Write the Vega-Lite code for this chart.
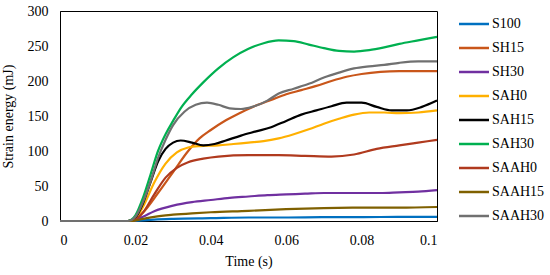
{
  "$schema": "https://vega.github.io/schema/vega-lite/v6.json",
  "width": 377,
  "height": 210,
  "autosize": {"type": "none"},
  "padding": {"left": 60, "top": 11, "right": 113, "bottom": 54},
  "background": "white",
  "config": {
    "font": "Liberation Serif",
    "view": {"stroke": "black", "strokeWidth": 1},
    "axis": {"grid": false, "ticks": false, "domainColor": "black", "labelFont": "Liberation Serif", "titleFont": "Liberation Serif", "labelFontSize": 14, "titleFontSize": 14, "titleFontWeight": "normal", "labelColor": "black", "titleColor": "black"}
  },
  "data": {"values": [
    {"s":"S100","t":0,"v":0},{"s":"S100","t":0.019,"v":0},{"s":"S100","t":0.022,"v":1},{"s":"S100","t":0.025,"v":2},{"s":"S100","t":0.03,"v":3},{"s":"S100","t":0.04,"v":4},{"s":"S100","t":0.05,"v":5},{"s":"S100","t":0.06,"v":5},{"s":"S100","t":0.07,"v":5.5},{"s":"S100","t":0.08,"v":5.5},{"s":"S100","t":0.09,"v":6},{"s":"S100","t":0.1,"v":6},
    {"s":"SH15","t":0,"v":0},{"s":"SH15","t":0.019,"v":0},{"s":"SH15","t":0.022,"v":12},{"s":"SH15","t":0.026,"v":40},{"s":"SH15","t":0.03,"v":70},{"s":"SH15","t":0.034,"v":100},{"s":"SH15","t":0.037,"v":118},{"s":"SH15","t":0.04,"v":130},{"s":"SH15","t":0.044,"v":144},{"s":"SH15","t":0.048,"v":155},{"s":"SH15","t":0.052,"v":165},{"s":"SH15","t":0.056,"v":173},{"s":"SH15","t":0.06,"v":181},{"s":"SH15","t":0.064,"v":187},{"s":"SH15","t":0.068,"v":193},{"s":"SH15","t":0.072,"v":200},{"s":"SH15","t":0.076,"v":206},{"s":"SH15","t":0.08,"v":210},{"s":"SH15","t":0.085,"v":213},{"s":"SH15","t":0.09,"v":214},{"s":"SH15","t":0.095,"v":214},{"s":"SH15","t":0.1,"v":214},
    {"s":"SH30","t":0,"v":0},{"s":"SH30","t":0.019,"v":0},{"s":"SH30","t":0.022,"v":6},{"s":"SH30","t":0.025,"v":14},{"s":"SH30","t":0.03,"v":22},{"s":"SH30","t":0.035,"v":27},{"s":"SH30","t":0.04,"v":30},{"s":"SH30","t":0.045,"v":33},{"s":"SH30","t":0.05,"v":35},{"s":"SH30","t":0.055,"v":37},{"s":"SH30","t":0.06,"v":38},{"s":"SH30","t":0.065,"v":39},{"s":"SH30","t":0.07,"v":40},{"s":"SH30","t":0.075,"v":40},{"s":"SH30","t":0.08,"v":40},{"s":"SH30","t":0.085,"v":40},{"s":"SH30","t":0.09,"v":41},{"s":"SH30","t":0.095,"v":42},{"s":"SH30","t":0.1,"v":44},
    {"s":"SAH0","t":0,"v":0},{"s":"SAH0","t":0.018,"v":0},{"s":"SAH0","t":0.02,"v":4},{"s":"SAH0","t":0.022,"v":20},{"s":"SAH0","t":0.025,"v":55},{"s":"SAH0","t":0.028,"v":82},{"s":"SAH0","t":0.031,"v":98},{"s":"SAH0","t":0.034,"v":105},{"s":"SAH0","t":0.037,"v":107},{"s":"SAH0","t":0.042,"v":108},{"s":"SAH0","t":0.046,"v":110},{"s":"SAH0","t":0.05,"v":112},{"s":"SAH0","t":0.054,"v":114},{"s":"SAH0","t":0.058,"v":118},{"s":"SAH0","t":0.062,"v":124},{"s":"SAH0","t":0.066,"v":131},{"s":"SAH0","t":0.07,"v":139},{"s":"SAH0","t":0.074,"v":146},{"s":"SAH0","t":0.078,"v":152},{"s":"SAH0","t":0.082,"v":155},{"s":"SAH0","t":0.086,"v":155},{"s":"SAH0","t":0.09,"v":154},{"s":"SAH0","t":0.095,"v":155},{"s":"SAH0","t":0.1,"v":158},
    {"s":"SAH15","t":0,"v":0},{"s":"SAH15","t":0.018,"v":0},{"s":"SAH15","t":0.02,"v":5},{"s":"SAH15","t":0.022,"v":25},{"s":"SAH15","t":0.024,"v":55},{"s":"SAH15","t":0.026,"v":85},{"s":"SAH15","t":0.028,"v":103},{"s":"SAH15","t":0.03,"v":112},{"s":"SAH15","t":0.032,"v":115},{"s":"SAH15","t":0.035,"v":112},{"s":"SAH15","t":0.038,"v":108},{"s":"SAH15","t":0.041,"v":110},{"s":"SAH15","t":0.044,"v":115},{"s":"SAH15","t":0.048,"v":122},{"s":"SAH15","t":0.052,"v":128},{"s":"SAH15","t":0.056,"v":134},{"s":"SAH15","t":0.06,"v":143},{"s":"SAH15","t":0.064,"v":152},{"s":"SAH15","t":0.068,"v":158},{"s":"SAH15","t":0.072,"v":164},{"s":"SAH15","t":0.076,"v":169},{"s":"SAH15","t":0.08,"v":169},{"s":"SAH15","t":0.084,"v":163},{"s":"SAH15","t":0.088,"v":158},{"s":"SAH15","t":0.092,"v":158},{"s":"SAH15","t":0.096,"v":163},{"s":"SAH15","t":0.1,"v":172},
    {"s":"SAH30","t":0,"v":0},{"s":"SAH30","t":0.018,"v":0},{"s":"SAH30","t":0.02,"v":8},{"s":"SAH30","t":0.022,"v":33},{"s":"SAH30","t":0.024,"v":66},{"s":"SAH30","t":0.026,"v":100},{"s":"SAH30","t":0.028,"v":124},{"s":"SAH30","t":0.03,"v":143},{"s":"SAH30","t":0.032,"v":161},{"s":"SAH30","t":0.035,"v":181},{"s":"SAH30","t":0.038,"v":198},{"s":"SAH30","t":0.042,"v":218},{"s":"SAH30","t":0.046,"v":234},{"s":"SAH30","t":0.05,"v":246},{"s":"SAH30","t":0.054,"v":254},{"s":"SAH30","t":0.058,"v":258},{"s":"SAH30","t":0.062,"v":257},{"s":"SAH30","t":0.066,"v":252},{"s":"SAH30","t":0.07,"v":247},{"s":"SAH30","t":0.074,"v":243},{"s":"SAH30","t":0.078,"v":242},{"s":"SAH30","t":0.082,"v":244},{"s":"SAH30","t":0.086,"v":248},{"s":"SAH30","t":0.09,"v":253},{"s":"SAH30","t":0.095,"v":258},{"s":"SAH30","t":0.1,"v":263},
    {"s":"SAAH0","t":0,"v":0},{"s":"SAAH0","t":0.019,"v":0},{"s":"SAAH0","t":0.022,"v":12},{"s":"SAAH0","t":0.025,"v":38},{"s":"SAAH0","t":0.028,"v":62},{"s":"SAAH0","t":0.031,"v":76},{"s":"SAAH0","t":0.034,"v":84},{"s":"SAAH0","t":0.038,"v":89},{"s":"SAAH0","t":0.042,"v":92},{"s":"SAAH0","t":0.05,"v":94},{"s":"SAAH0","t":0.058,"v":94},{"s":"SAAH0","t":0.065,"v":93},{"s":"SAAH0","t":0.072,"v":92},{"s":"SAAH0","t":0.078,"v":95},{"s":"SAAH0","t":0.084,"v":103},{"s":"SAAH0","t":0.09,"v":108},{"s":"SAAH0","t":0.095,"v":112},{"s":"SAAH0","t":0.1,"v":116},
    {"s":"SAAH15","t":0,"v":0},{"s":"SAAH15","t":0.019,"v":0},{"s":"SAAH15","t":0.022,"v":3},{"s":"SAAH15","t":0.025,"v":6},{"s":"SAAH15","t":0.03,"v":9},{"s":"SAAH15","t":0.035,"v":11},{"s":"SAAH15","t":0.04,"v":12.5},{"s":"SAAH15","t":0.05,"v":14.5},{"s":"SAAH15","t":0.06,"v":17},{"s":"SAAH15","t":0.07,"v":18.5},{"s":"SAAH15","t":0.08,"v":19},{"s":"SAAH15","t":0.09,"v":19},{"s":"SAAH15","t":0.1,"v":20},
    {"s":"SAAH30","t":0,"v":0},{"s":"SAAH30","t":0.018,"v":0},{"s":"SAAH30","t":0.02,"v":6},{"s":"SAAH30","t":0.022,"v":27},{"s":"SAAH30","t":0.024,"v":56},{"s":"SAAH30","t":0.026,"v":90},{"s":"SAAH30","t":0.028,"v":116},{"s":"SAAH30","t":0.03,"v":137},{"s":"SAAH30","t":0.033,"v":156},{"s":"SAAH30","t":0.036,"v":166},{"s":"SAAH30","t":0.039,"v":169},{"s":"SAAH30","t":0.042,"v":166},{"s":"SAAH30","t":0.045,"v":161},{"s":"SAAH30","t":0.048,"v":160},{"s":"SAAH30","t":0.051,"v":163},{"s":"SAAH30","t":0.055,"v":172},{"s":"SAAH30","t":0.058,"v":182},{"s":"SAAH30","t":0.062,"v":189},{"s":"SAAH30","t":0.066,"v":196},{"s":"SAAH30","t":0.07,"v":205},{"s":"SAAH30","t":0.074,"v":212},{"s":"SAAH30","t":0.078,"v":218},{"s":"SAAH30","t":0.082,"v":221},{"s":"SAAH30","t":0.086,"v":223},{"s":"SAAH30","t":0.09,"v":226},{"s":"SAAH30","t":0.095,"v":228},{"s":"SAAH30","t":0.1,"v":228}
  ]},
  "mark": {"type": "line", "interpolate": "monotone", "strokeWidth": 2.2},
  "encoding": {
    "x": {"field": "t", "type": "quantitative", "scale": {"domain": [0, 0.1], "nice": false, "zero": true},
      "axis": {"values": [0, 0.02, 0.04, 0.06, 0.08, 0.1], "format": "~g", "title": "Time (s)", "labelPadding": 12, "titlePadding": 7}},
    "y": {"field": "v", "type": "quantitative", "scale": {"domain": [0, 300], "nice": false},
      "axis": {"values": [0, 50, 100, 150, 200, 250, 300], "title": "Strain energy (mJ)", "labelPadding": 12, "titlePadding": 12}},
    "color": {"field": "s", "type": "nominal",
      "scale": {"domain": ["S100","SH15","SH30","SAH0","SAH15","SAH30","SAAH0","SAAH15","SAAH30"],
        "range": ["#0070C0","#C9561A","#7030A0","#FFB000","#000000","#00B050","#B03A1E","#7F6000","#707070"]},
      "legend": {"title": null, "orient": "none", "legendX": 407, "legendY": 6, "symbolType": "M-3,0H3", "symbolSize": 100, "symbolStrokeWidth": 2.5, "labelFontSize": 14, "labelFont": "Liberation Serif", "labelColor": "black", "rowPadding": 10, "labelOffset": 11}
    }
  }
}
